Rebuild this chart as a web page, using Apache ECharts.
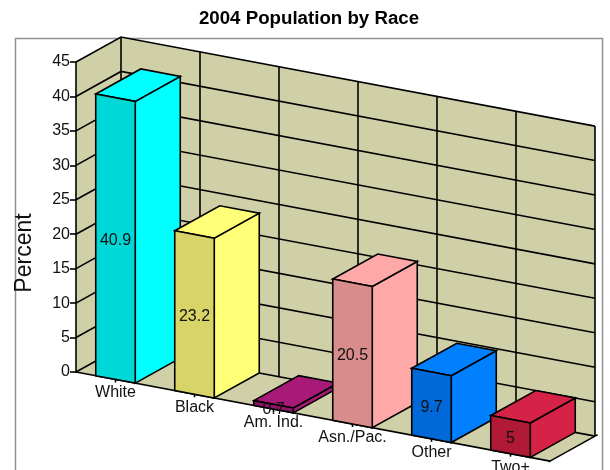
<!DOCTYPE html>
<html>
<head>
<meta charset="utf-8">
<style>html,body{margin:0;padding:0;background:#fff}#chart{width:610px;height:470px;overflow:hidden}</style>
<script src="https://cdn.jsdelivr.net/npm/echarts@6/dist/echarts.min.js"></script>
</head>
<body>
<div id="chart"></div>
<script>
// 2004 population shares, by race
const categories = ['White', 'Black', 'Am. Ind.', 'Asn./Pac.', 'Other', 'Two+'];
const percents = [40.9, 23.2, 0.7, 20.5, 9.7, 5];
const yTicks = [0, 5, 10, 15, 20, 25, 30, 35, 40, 45];
const sideColors = ['#00FFFF', '#FFFF78', '#A81A78', '#FFA8A8', '#0080FF', '#D62246'];
const frontColors = ['#00D8D8', '#D8D468', '#8E1566', '#D88C8C', '#0068D8', '#B01A36'];

// Oblique projection: depth runs up and to the right, and the front plane falls to the right.
const DEPTH_X = 45;
const DEPTH_Y = -25;
const FALL = 0.188;
const FONT = '"Liberation Sans", Arial, sans-serif';
const STROKE = 1.6;
const LINE = { stroke: '#000', lineWidth: STROKE, fill: null };

const chart = echarts.init(document.getElementById('chart'), null, { renderer: 'canvas' });

// Base point of the category axis
function frame(api) {
  const band = api.size([1, 0])[0];
  const origin = api.coord([0, 0]);
  const left = origin[0] - band / 2;
  const base = origin[1];
  const project = function (x, y, depth) {
    return [x + depth * DEPTH_X, y + (x - left) * FALL + depth * DEPTH_Y];
  };
  return { band, left, base, project };
}

function poly(points, fill) {
  return { type: 'polygon', shape: { points }, style: { fill, stroke: '#000', lineWidth: STROKE } };
}

function polyline(points) {
  return { type: 'polyline', shape: { points }, style: LINE };
}

function label(text, x, y, size) {
  return {
    type: 'text',
    style: { text, x, y, align: 'center', verticalAlign: 'middle', fill: '#111', fontSize: size, fontFamily: FONT }
  };
}

// Walls, floor, gridlines and the category labels under the front edge
function renderBackdrop(params, api) {
  const f = frame(api);
  const right = f.left + f.band * categories.length;
  const top = api.coord([0, yTicks[yTicks.length - 1]])[1];
  const p = f.project;
  const wall = '#D0D0A8';
  const flat = function (points) {
    return { type: 'polygon', shape: { points }, style: { fill: wall } };
  };
  const children = [
    flat([p(f.left, f.base, 0), p(f.left, top, 0), p(f.left, top, 1), p(f.left, f.base, 1)]),
    flat([p(f.left, top, 1), p(right, top, 1), p(right, f.base, 1), p(f.left, f.base, 1)]),
    flat([p(f.left, f.base, 0), p(f.left, f.base, 1), p(right, f.base, 1), p(right, f.base, 0)])
  ];
  yTicks.forEach(function (tick) {
    const y = api.coord([0, tick])[1];
    children.push(polyline([p(f.left, y, 0), p(f.left, y, 1), p(right, y, 1)]));
  });
  for (let k = 0; k <= categories.length; k++) {
    const x = f.left + k * f.band;
    children.push(polyline([p(x, top, 1), p(x, f.base, 1)]));
  }
  children.push(polyline([p(f.left, f.base, 0), p(right, f.base, 0)]));
  children.push(polyline([p(right, f.base, -0.03), p(right, f.base, 1.06)]));
  categories.forEach(function (name, i) {
    const x = api.coord([i, 0])[0];
    const edge = p(x, f.base, 0);
    children.push(polyline([edge, [edge[0], edge[1] + 3]]));
    children.push(label(name, x, edge[1] + 13.5, 16));
  });
  return { type: 'group', children };
}

// One oblique box per category, with its value centred on the front face
function renderBar(params, api) {
  const f = frame(api);
  const i = api.value(0);
  const value = api.value(1);
  const center = api.coord([i, 0])[0];
  const half = f.band / 4;
  const xa = center - half;
  const xb = center + half;
  const yTop = api.coord([i, value])[1];
  const p = f.project;
  const height = f.base - yTop;
  const midY = p(center, f.base, 0)[1] - height / 2;
  return {
    type: 'group',
    children: [
      poly([p(xb, f.base, 0), p(xb, yTop, 0), p(xb, yTop, 1), p(xb, f.base, 1)], sideColors[i]),
      poly([p(xa, yTop, 0), p(xa, yTop, 1), p(xb, yTop, 1), p(xb, yTop, 0)], sideColors[i]),
      poly([p(xa, f.base, 0), p(xa, yTop, 0), p(xb, yTop, 0), p(xb, f.base, 0)], frontColors[i]),
      label(String(value), center, midY + 2.5, 16)
    ]
  };
}

chart.setOption({
  animation: false,
  backgroundColor: '#fff',
  title: {
    text: '2004 Population by Race',
    left: 304,
    top: 4,
    textAlign: 'center',
    textStyle: { fontFamily: FONT, fontSize: 18.7, fontWeight: 'bold', color: '#000' }
  },
  grid: { left: 76, top: 62, width: 474, height: 310 },
  xAxis: {
    type: 'category',
    data: categories,
    axisLine: { show: false },
    axisTick: { show: false },
    axisLabel: { show: false }
  },
  yAxis: {
    type: 'value',
    min: 0,
    max: 45,
    interval: 5,
    z: 5,
    axisLine: { show: true, lineStyle: { color: '#000', width: STROKE } },
    axisTick: { show: true, length: 6, lineStyle: { color: '#000', width: STROKE } },
    axisLabel: { margin: 6, fontFamily: FONT, fontSize: 16, color: '#111' },
    splitLine: { show: false }
  },
  graphic: [
    {
      type: 'rect',
      z: -1,
      shape: { x: 15.5, y: 38.5, width: 587, height: 480 },
      style: { fill: '#fff', stroke: '#909090', lineWidth: 1.5 }
    },
    {
      type: 'text',
      x: 25,
      y: 253,
      rotation: Math.PI / 2,
      style: {
        text: 'Percent',
        align: 'center',
        verticalAlign: 'middle',
        fontFamily: FONT,
        fontSize: 23,
        fill: '#111'
      }
    }
  ],
  series: [
    {
      type: 'custom',
      coordinateSystem: 'cartesian2d',
      clip: false,
      z: 2,
      renderItem: renderBackdrop,
      encode: { x: 0, y: 1 },
      data: [[0, 0]]
    },
    {
      type: 'custom',
      coordinateSystem: 'cartesian2d',
      clip: false,
      z: 3,
      renderItem: renderBar,
      encode: { x: 0, y: 1 },
      data: percents.map(function (v, i) { return [i, v]; })
    }
  ]
});
</script>
</body>
</html>
